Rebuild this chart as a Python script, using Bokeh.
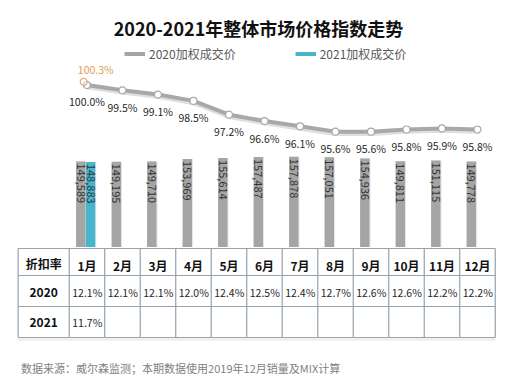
import numpy as np
from bokeh.plotting import figure
from bokeh.models import Range1d, Legend, LegendItem, Label, ColumnDataSource
from bokeh.transform import dodge
from bokeh.layouts import column
from bokeh.embed import file_html
from bokeh.resources import INLINE
from bokeh.core.properties import value

# ---------------- data ----------------
months = [1, 2, 3, 4, 5, 6, 7, 8, 9, 10, 11, 12]
month_labels = ["1月", "2月", "3月", "4月", "5月", "6月", "7月", "8月", "9月", "10月", "11月", "12月"]
price_2020 = [149589, 149195, 149710, 153969, 155614, 157487, 157878, 157051, 154936, 149811, 151115, 149778]
price_2021 = [148883]
index_2020 = [100.0, 99.5, 99.1, 98.5, 97.2, 96.6, 96.1, 95.6, 95.6, 95.8, 95.9, 95.8]
index_2021 = [100.3]
disc_2020 = [12.1, 12.1, 12.1, 12.0, 12.4, 12.5, 12.4, 12.7, 12.6, 12.6, 12.2, 12.2]
disc_2021 = [11.7]
title_text = "2020-2021年整体市场价格指数走势"
series_names = ["2020加权成交价", "2021加权成交价"]
row_header = ["折扣率", "2020", "2021"]
footnote = "数据来源：威尔森监测；本期数据使用2019年12月销量及MIX计算"

# ---------------- style ----------------
FONT = "Noto Sans CJK SC"
GRAY = "#a5a5a5"
CYAN = "#47b5cc"
LINE_GRAY = "#a8a8a8"
ORANGE = "#e39a55"
TABLE_LINE = "#95a3ad"
W = 507

x_range = Range1d(-1.436, 12.845)

# ---------------- top chart ----------------
p = figure(width=W, height=247, x_range=x_range, y_range=Range1d(0, 429630),
           output_backend="svg", toolbar_location=None, min_border=0,
           x_axis_type=None, y_axis_type=None, outline_line_color=None)
p.extra_y_ranges = {"pct": Range1d(84.67, 107.97)}

src20 = ColumnDataSource(dict(x=months, top=price_2020,
                              label=[f"{v:,}" for v in price_2020]))
src21 = ColumnDataSource(dict(x=months[:len(price_2021)], top=price_2021,
                              label=[f"{v:,}" for v in price_2021]))

# soft bar shadows
p.vbar(x=dodge("x", -0.145), top="top", width=0.265, source=src20,
       fill_color="#d6d6d6", fill_alpha=0.6, line_color=None)
p.vbar(x=dodge("x", 0.13), top="top", width=0.265, source=src21,
       fill_color="#d6d6d6", fill_alpha=0.6, line_color=None)

p.vbar(x=dodge("x", -0.175), top="top", width=0.265, source=src20,
       fill_color=GRAY, line_color=None)
p.vbar(x=dodge("x", 0.1), top="top", width=0.265, source=src21,
       fill_color=CYAN, line_color=None)

p.text(x=dodge("x", -0.175), y="top", text="label", source=src20,
       angle=-np.pi / 2, text_align="left", text_baseline="middle",
       y_offset=2, text_font=value(FONT), text_font_size="11px", text_color="#333333")
p.text(x=dodge("x", 0.1), y="top", text="label", source=src21,
       angle=-np.pi / 2, text_align="left", text_baseline="middle",
       y_offset=2, text_font=value(FONT), text_font_size="11px", text_color="#333333")

# index line
lsrc = ColumnDataSource(dict(x=months, y=index_2020,
                             label=[f"{v:.1f}%" for v in index_2020]))
p.line(x="x", y=dodge("y", -0.22), source=lsrc, y_range_name="pct",
       line_color="#c9c9c9", line_width=4, line_alpha=0.6)
p.line(x="x", y="y", source=lsrc, y_range_name="pct",
       line_color=LINE_GRAY, line_width=4)
p.scatter(x="x", y="y", source=lsrc, y_range_name="pct", size=7,
          fill_color="white", line_color=LINE_GRAY, line_width=1.2)
p.text(x="x", y="y", text="label", source=lsrc, y_range_name="pct",
       y_offset=17, text_align="center", text_baseline="middle",
       text_font=value(FONT), text_font_size="10.5px", text_color="#262626")

l21 = ColumnDataSource(dict(x=months[:len(index_2021)], y=index_2021,
                            label=[f"{v:.1f}%" for v in index_2021]))
p.scatter(x=dodge("x", -0.09), y="y", source=l21, y_range_name="pct", size=7,
          fill_color="white", fill_alpha=0.4, line_color=ORANGE, line_alpha=0.8, line_width=1.2)
p.text(x=dodge("x", -0.09), y="y", text="label", source=l21, y_range_name="pct",
       x_offset=12, y_offset=-12, text_align="center", text_baseline="middle",
       text_font=value(FONT), text_font_size="10.5px", text_color=ORANGE)

# title
p.add_layout(Label(x=258, y=220, x_units="screen", y_units="screen", text=title_text,
                   text_align="center", text_baseline="middle",
                   text_font=FONT, text_font_size="18px", text_font_style="bold",
                   text_color="#111111"))

# legend (line swatches give the thin bars)
leg20 = p.line(x=[np.nan], y=[np.nan], line_color=GRAY, line_width=4)
leg21 = p.line(x=[np.nan], y=[np.nan], line_color=CYAN, line_width=4)
legend = Legend(items=[LegendItem(label=series_names[0], renderers=[leg20]),
                       LegendItem(label=series_names[1], renderers=[leg21])],
                orientation="horizontal", location=(124, 185),
                glyph_width=21, glyph_height=15, label_height=15, label_standoff=4,
                spacing=59, padding=0, margin=0, border_line_color=None,
                background_fill_alpha=0, label_text_font=FONT,
                label_text_font_size="12px", label_text_color="#595959")
p.add_layout(legend)

# ---------------- table ----------------
t = figure(width=W, height=131, x_range=x_range, y_range=Range1d(131, 0),
           output_backend="svg", toolbar_location=None, min_border=0,
           x_axis_type=None, y_axis_type=None, outline_line_color=None)

table_left = -0.94
row_edges = [1, 28, 59, 90]
row_centers = [15.5, 44.5, 74.5]
col_edges = [table_left] + [m - 0.5 for m in months] + [months[-1] + 0.5]
head_x = (table_left + months[0] - 0.5) / 2

t.segment(x0=[table_left] * len(row_edges), x1=[months[-1] + 0.5] * len(row_edges),
          y0=row_edges, y1=row_edges, line_color=TABLE_LINE, line_width=1.2)
t.segment(x0=col_edges, x1=col_edges, y0=[row_edges[0]] * len(col_edges),
          y1=[row_edges[-1]] * len(col_edges), line_color=TABLE_LINE, line_width=1.2)
t.segment(x0=[table_left], x1=[months[-1] + 0.5], y0=[row_edges[-1] + 2], y1=[row_edges[-1] + 2],
          line_color="#ebebeb", line_width=2)

t.text(x=months, y=[row_centers[0] + 2] * len(months), text=month_labels,
       text_align="center", text_baseline="middle", text_font=value(FONT),
       text_font_size="12px", text_font_style="bold", text_color="#111111")
t.text(x=[head_x] * 3, y=[row_centers[0], row_centers[1], row_centers[2]], text=row_header,
       text_align="center", text_baseline="middle", text_font=value(FONT),
       text_font_size="12px", text_font_style="bold", text_color="#111111")
t.text(x=[m - 0.5 for m in months], y=[row_centers[1]] * len(months),
       text=[f"{v:.1f}%" for v in disc_2020], x_offset=3,
       text_align="left", text_baseline="middle", text_font=value(FONT),
       text_font_size="10.5px", text_color="#262626")
t.text(x=[m - 0.5 for m in months[:len(disc_2021)]], y=[row_centers[2]] * len(disc_2021),
       text=[f"{v:.1f}%" for v in disc_2021], x_offset=3,
       text_align="left", text_baseline="middle", text_font=value(FONT),
       text_font_size="10.5px", text_color="#262626")

t.text(x=[table_left], y=[120], text=[footnote], x_offset=3,
       text_align="left", text_baseline="middle", text_font=value(FONT),
       text_font_size="11px", text_color="#7f7f7f")

layout = column(p, t, spacing=0)
open("out.html", "w").write(file_html(layout, INLINE))
